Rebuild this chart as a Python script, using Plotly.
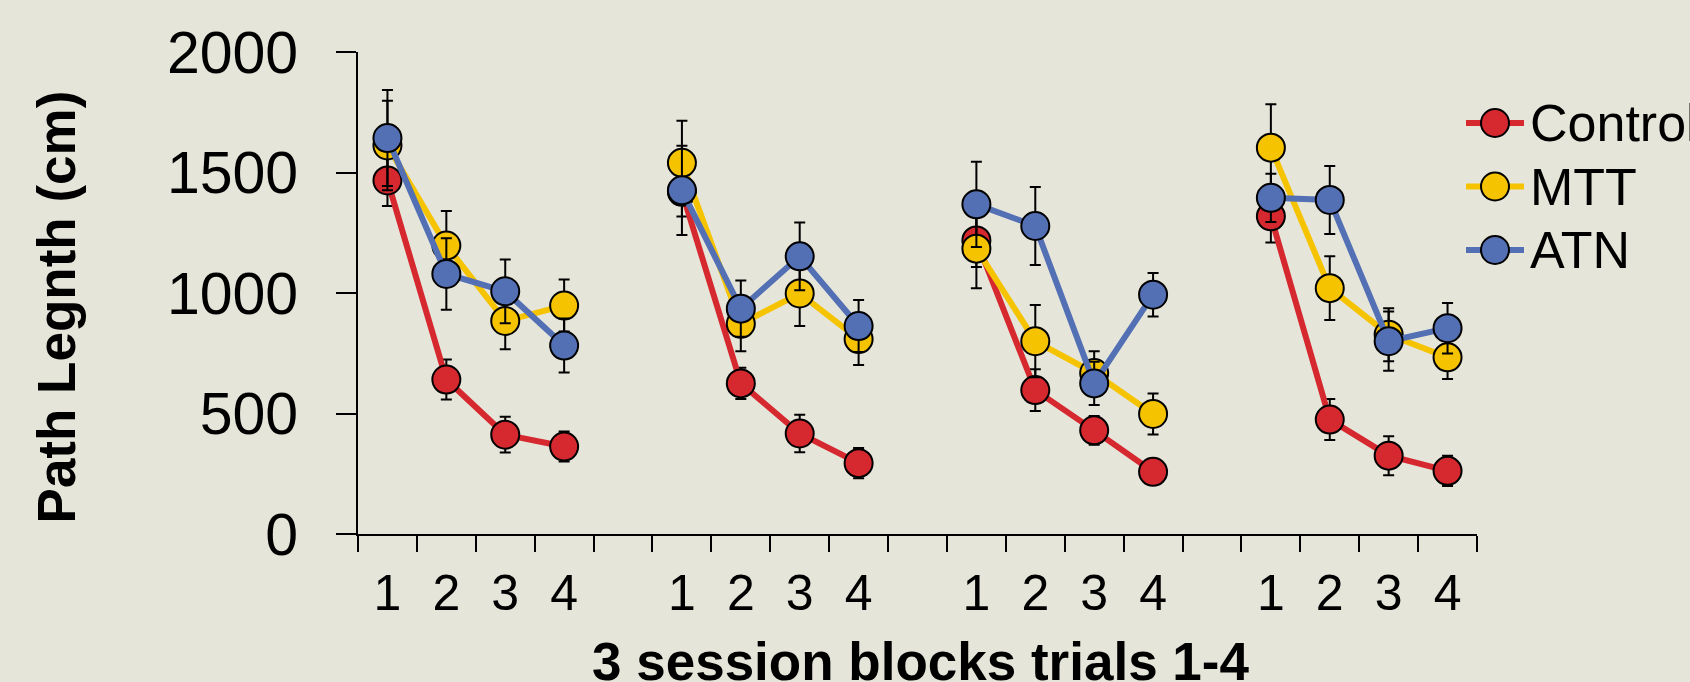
import plotly.graph_objects as go

# Four blocks of four trials each; an empty slot separates consecutive blocks
blocks = 4
trials = ["1", "2", "3", "4"]

control = [1467, 641, 412, 363, 1420, 625, 417, 294, 1218, 597, 430, 258, 1318, 475, 325, 262]
control_err = [106, 83, 74, 62, 103, 65, 78, 63, 110, 87, 60, 40, 108, 85, 81, 63]

mtt = [1612, 1197, 884, 948, 1540, 872, 998, 809, 1184, 800, 668, 498, 1603, 1020, 827, 733]
mtt_err = [186, 143, 117, 108, 175, 114, 135, 108, 164, 150, 90, 85, 180, 132, 110, 90]

atn = [1643, 1079, 1007, 782, 1426, 935, 1152, 863, 1368, 1278, 625, 993, 1395, 1386, 800, 854]
atn_err = [199, 148, 132, 112, 185, 117, 141, 108, 177, 162, 90, 90, 100, 141, 123, 105]

series = [
    ("Control", control, control_err, "#D6282F"),
    ("MTT", mtt, mtt_err, "#F6C300"),
    ("ATN", atn, atn_err, "#5470B5"),
]

slot = len(trials) + 1  # four trials plus one gap slot per block
xpos = [b * slot + t for b in range(blocks) for t in range(len(trials))]
n_slots = blocks * slot - 1

W, H = 1690, 682
L, T, B = 358, 52, 148
plot_w = W - L
main_w = 1119  # width of the data axis in px
line_w, marker_size = 6, 28
bg = "#E5E5DA"

fig = go.Figure()
for name, vals, errs, color in series:
    for b in range(blocks):
        seg = slice(b * len(trials), (b + 1) * len(trials))
        fig.add_trace(go.Scatter(
            x=xpos[seg], y=vals[seg],
            mode="lines+markers",
            name=name,
            showlegend=False,
            line=dict(color=color, width=line_w),
            marker=dict(size=marker_size, color=color, line=dict(color="black", width=2)),
            error_y=dict(type="data", array=errs[seg], visible=True,
                         color="black", thickness=2, width=5.5),
        ))

# Legend keys drawn on their own small axis pair: one row per series,
# key line spans 0..1 with the marker at its midpoint.
key_row_px = 63.5
key_len_px = 58
key_x0_px, key_y0_px = 1466, 123
leg_dom0 = 0.75
leg_left_px = L + leg_dom0 * plot_w
x2_range = [-(key_x0_px - leg_left_px) / key_len_px, (W - key_x0_px) / key_len_px]
y2_range = [(H - B - key_y0_px) / key_row_px, -(key_y0_px - T) / key_row_px]

annotations = []
for i, (name, vals, errs, color) in enumerate(series):
    fig.add_trace(go.Scatter(
        x=[0, 0.5, 1], y=[i, i, i], xaxis="x2", yaxis="y2",
        mode="lines", showlegend=False, hoverinfo="skip",
        line=dict(color=color, width=line_w),
    ))
    fig.add_trace(go.Scatter(
        x=[0.5], y=[i], xaxis="x2", yaxis="y2",
        mode="markers", showlegend=False, hoverinfo="name", name=name,
        marker=dict(size=marker_size, color=color, line=dict(color="black", width=2)),
    ))
    annotations.append(dict(
        text=name, xref="x2", yref="y2", x=1.07, y=i,
        xanchor="left", yanchor="middle", showarrow=False,
        font=dict(size=52),
    ))

annotations += [
    dict(text="<b>Path Legnth (cm)</b>", textangle=-90,
         xref="paper", yref="paper", x=(56 - L) / plot_w, y=0.47,
         xanchor="center", yanchor="middle", showarrow=False,
         font=dict(size=53)),
    dict(text="<b>3 session blocks trials 1-4</b>",
         xref="paper", yref="paper", x=(920 - L) / plot_w, y=-0.265,
         xanchor="center", yanchor="middle", showarrow=False,
         font=dict(size=53)),
]

fig.update_layout(
    width=W, height=H,
    margin=dict(l=L, r=0, t=T, b=B, autoexpand=False),
    paper_bgcolor=bg,
    plot_bgcolor="rgba(0,0,0,0)",
    font=dict(family="Liberation Sans, Arial, sans-serif", color="black"),
    showlegend=False,
    xaxis=dict(
        domain=[0, main_w / plot_w],
        range=[-0.5, n_slots - 0.5],
        tickvals=xpos, ticktext=trials * blocks,
        tickfont=dict(size=50),
        ticks="", ticklabelstandoff=14,
        showgrid=False, zeroline=False,
        showline=True, linecolor="black", linewidth=2,
        minor=dict(tick0=-0.5, dtick=1, ticks="outside", ticklen=16,
                   tickwidth=2, tickcolor="black", showgrid=False),
    ),
    yaxis=dict(
        range=[0, 2000], tickvals=[0, 500, 1000, 1500, 2000],
        tickfont=dict(size=59),
        ticks="outside", ticklen=20, tickwidth=2, tickcolor="black",
        ticklabelstandoff=26,
        showgrid=False, zeroline=False,
        showline=True, linecolor="black", linewidth=2,
    ),
    xaxis2=dict(domain=[leg_dom0, 1], range=x2_range, anchor="y2",
                visible=False, fixedrange=True, showgrid=False, zeroline=False),
    yaxis2=dict(domain=[0, 1], range=y2_range, anchor="x2",
                visible=False, fixedrange=True, showgrid=False, zeroline=False),
    annotations=annotations,
)

fig.write_html("out.html")
